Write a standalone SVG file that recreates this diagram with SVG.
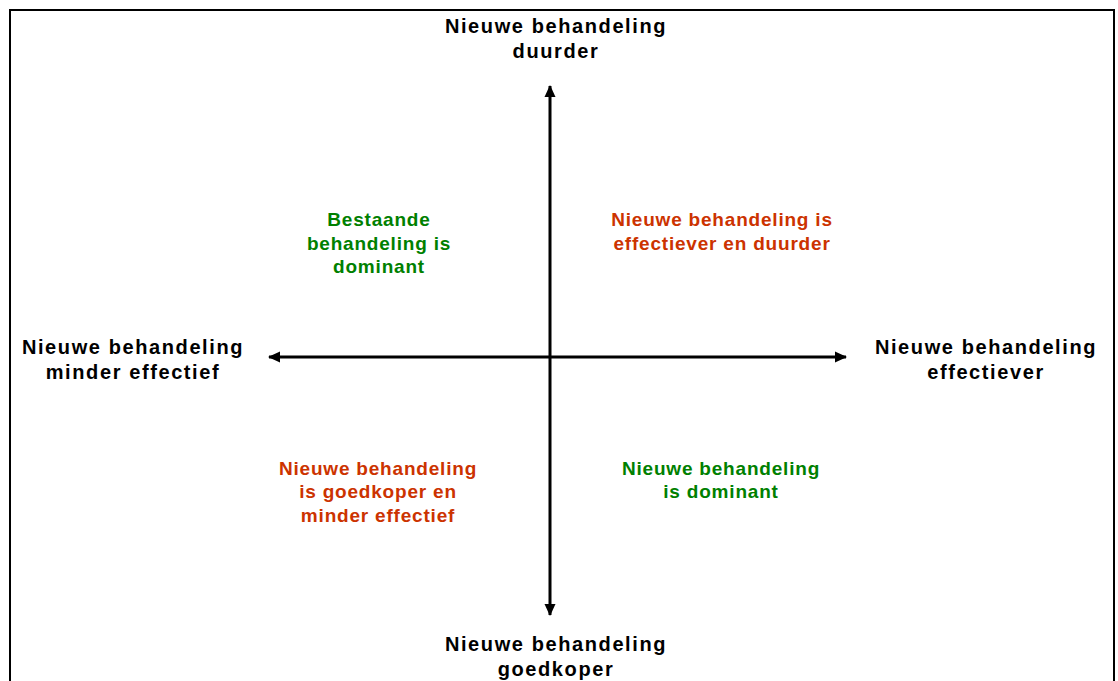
<svg xmlns="http://www.w3.org/2000/svg" width="1118" height="681" viewBox="0 0 1118 681">
<style>
text{font-family:"Liberation Sans",Arial,sans-serif;font-weight:bold;font-size:20px;letter-spacing:1.6px;text-anchor:middle}
.k{fill:#000}
.r{fill:#cc3300;letter-spacing:0.8px;font-size:19px}
.g{fill:#008000;letter-spacing:0.8px;font-size:19px}
.ax{stroke:#000;stroke-width:3;fill:none}
</style>
<defs>
<marker id="ah" viewBox="0 0 12 12" refX="11" refY="6" markerWidth="12" markerHeight="12" markerUnits="userSpaceOnUse" orient="auto">
<path d="M0,0.5 L12,6 L0,11.5 Z" fill="#000"/>
</marker>
</defs>
<rect x="0" y="0" width="1118" height="681" fill="#fff"/>
<rect x="10" y="10" width="1104" height="720" fill="none" stroke="#000" stroke-width="2"/>
<g id="connectors">
<line class="ax" x1="550" y1="357" x2="550" y2="86" marker-end="url(#ah)"/>
<line class="ax" x1="550" y1="357" x2="550" y2="615" marker-end="url(#ah)"/>
<line class="ax" x1="550" y1="357" x2="269" y2="357" marker-end="url(#ah)"/>
<line class="ax" x1="550" y1="357" x2="846" y2="357" marker-end="url(#ah)"/>
</g>
<g id="top"><text class="k" x="556" y="33">Nieuwe behandeling</text><text class="k" x="556" y="58">duurder</text></g>
<g id="bottom"><text class="k" x="556" y="651">Nieuwe behandeling</text><text class="k" x="556" y="676">goedkoper</text></g>
<g id="left"><text class="k" x="133" y="354">Nieuwe behandeling</text><text class="k" x="133" y="379">minder effectief</text></g>
<g id="right"><text class="k" x="986" y="354">Nieuwe behandeling</text><text class="k" x="986" y="379">effectiever</text></g>
<g id="q1"><text class="g" x="379" y="226">Bestaande</text><text class="g" x="379" y="250">behandeling is</text><text class="g" x="379" y="273">dominant</text></g>
<g id="q2"><text class="r" x="722" y="226">Nieuwe behandeling is</text><text class="r" x="722" y="250">effectiever en duurder</text></g>
<g id="q3"><text class="r" x="378" y="475">Nieuwe behandeling</text><text class="r" x="378" y="498">is goedkoper en</text><text class="r" x="378" y="522">minder effectief</text></g>
<g id="q4"><text class="g" x="721" y="475">Nieuwe behandeling</text><text class="g" x="721" y="498">is dominant</text></g>
</svg>
